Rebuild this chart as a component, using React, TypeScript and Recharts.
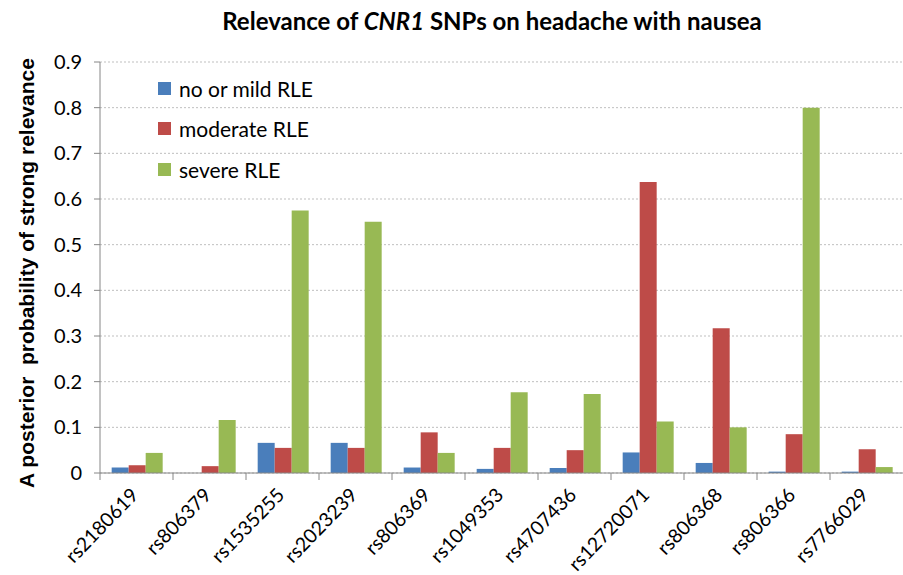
import { BarChart, Bar, XAxis, YAxis, CartesianGrid } from "recharts";

const snps = [
  "rs2180619",
  "rs806379",
  "rs1535255",
  "rs2023239",
  "rs806369",
  "rs1049353",
  "rs4707436",
  "rs12720071",
  "rs806368",
  "rs806366",
  "rs7766029",
];
const mildRle = [0.012, 0, 0.066, 0.066, 0.012, 0.009, 0.011, 0.045, 0.022, 0.003, 0.003];
const moderateRle = [0.017, 0.015, 0.055, 0.055, 0.089, 0.055, 0.05, 0.637, 0.317, 0.085, 0.052];
const severeRle = [0.044, 0.116, 0.575, 0.55, 0.044, 0.177, 0.173, 0.113, 0.1, 0.8, 0.013];
const yTicks = [0, 0.1, 0.2, 0.3, 0.4, 0.5, 0.6, 0.7, 0.8, 0.9];

const series = [
  { key: "mild", name: "no or mild RLE", color: "#4a7ebb" },
  { key: "moderate", name: "moderate RLE", color: "#be4b48" },
  { key: "severe", name: "severe RLE", color: "#98b954" },
];

const data = snps.map((snp, i) => ({
  snp,
  mild: mildRle[i],
  moderate: moderateRle[i],
  severe: severeRle[i],
}));

const FONT = "Lato, 'Open Sans', sans-serif";

function XTick(props: any) {
  const { x, y, payload } = props;
  const half = payload.offset || 0;
  return (
    <g>
      <line x1={x - half} x2={x - half} y1={y - 8} y2={y - 1} stroke="#868686" strokeWidth={1} />
      <text
        x={x + 3}
        y={y + 15}
        textAnchor="end"
        fontSize={19.5}
        fontFamily={FONT}
        fill="#000"
        transform={`rotate(-46 ${x + 3} ${y + 15})`}
      >
        {payload.value}
      </text>
    </g>
  );
}

export default function App() {
  return (
    <div style={{ position: "relative", width: 903, height: 575, background: "#fff" }}>
      <style>{"body{margin:0}"}</style>
      <div
        style={{
          position: "absolute",
          top: 6,
          left: 0,
          width: 903,
          textAlign: "center",
          fontFamily: FONT,
          fontWeight: 700,
          fontSize: 24,
          paddingLeft: 81,
          boxSizing: "border-box",
        }}
      >
        Relevance of <i>CNR1</i> SNPs on headache with nausea
      </div>
      <div
        style={{
          position: "absolute",
          left: 27,
          top: 273,
          transform: "translate(-50%, -50%) rotate(-90deg)",
          whiteSpace: "pre",
          fontFamily: "'Liberation Sans', Arial, sans-serif",
          fontWeight: 700,
          fontSize: 21,
        }}
      >
        {"A posterior  probability of strong relevance"}
      </div>
      <div
        style={{
          position: "absolute",
          left: 158,
          top: 68,
          fontFamily: FONT,
          fontSize: 21,
          color: "#000",
          zIndex: 2,
        }}
      >
        {series.map((s) => (
          <div key={s.key} style={{ display: "flex", alignItems: "center", height: 40.5 }}>
            <span style={{ width: 13, height: 13, background: s.color, marginRight: 8 }} />
            <span>{s.name}</span>
          </div>
        ))}
      </div>
      <BarChart
        width={903}
        height={575}
        data={data}
        margin={{ top: 62, right: 0, bottom: 0, left: 30 }}
        barCategoryGap="16%"
        barGap={0}
      >
        <CartesianGrid vertical={false} stroke="#bfbfbf" strokeDasharray="2 2" />
        <XAxis
          dataKey="snp"
          interval={0}
          height={102}
          stroke="#868686"
          tickLine={false}
          tick={<XTick />}
        />
        <YAxis
          domain={[0, 0.9]}
          ticks={yTicks}
          width={70}
          stroke="#868686"
          tickSize={6}
          tickMargin={12}
          tick={{ fontSize: 20, fontFamily: FONT, fill: "#000" }}
        />
        {series.map((s) => (
          <Bar key={s.key} dataKey={s.key} name={s.name} fill={s.color} isAnimationActive={false} />
        ))}
      </BarChart>
    </div>
  );
}
